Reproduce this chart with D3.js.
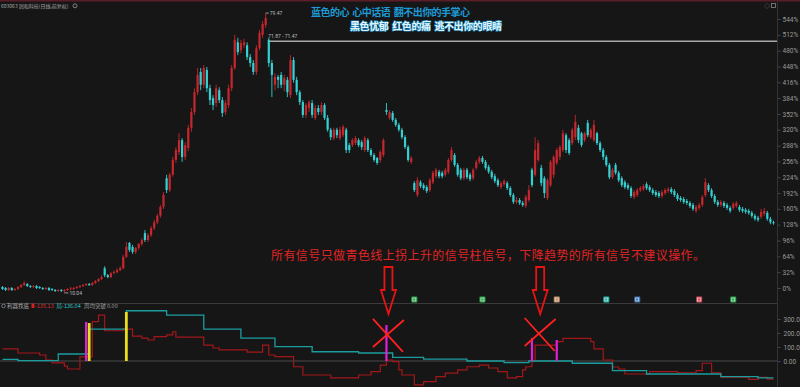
<!DOCTYPE html>
<html>
<head>
<meta charset="utf-8">
<script src="https://cdn.jsdelivr.net/npm/d3@7"></script>
<style>
  html, body { margin: 0; padding: 0; background: #161616; }
  svg { display: block; font-family: "Noto Sans CJK SC", "Noto Sans", sans-serif; }
</style>
</head>
<body>
<div id="chart"></div>
<script>
const W = 800
const H = 387

// daily candles, % versus base: [open, close, high, low]
const candles = [
  [2,-2,4,-4],[0,-4,2,-6],[-4,0,2,-6],[0,-4,2,-6],[-4,-2,0,-6],[-2,2,4,-4],[2,6,8,0],[6,10,14,4],[8,4,10,2],[4,2,6,0],
  [2,4,6,0],[4,0,6,-2],[2,0,4,-2],[0,-2,2,-4],[-2,0,2,-4],[0,-4,2,-6],[-2,-4,0,-6],[-4,-6,-2,-8],[-6,-4,-2,-8],[-4,-6,-2,-8],
  [-6,-4,-2,-10],[-4,-2,0,-6],[-2,-1,2,-4],[-2,0,2,-4],[0,2,4,-2],[2,4,6,0],[4,6,8,2],[6,8,10,4],[8,6,10,4],[6,10,12,4],
  [10,14,16,8],[14,18,20,12],[18,22,26,16],[40,26,44,22],[26,22,28,20],[22,30,32,20],[30,32,36,28],[32,36,40,30],[36,40,44,34],[40,63,67,38],
  [63,83,93,61],[91,77,93,73],[83,73,87,69],[73,81,83,69],[81,89,91,77],[89,97,101,85],[111,97,117,93],[97,107,111,93],[107,121,125,103],[121,133,138,117],
  [133,146,150,129],[146,164,168,142],[164,188,194,160],[222,198,229,192],[198,229,233,194],[229,259,265,225],[259,279,285,253],[275,299,313,269],[299,265,303,255],[265,289,295,259],
  [283,324,330,277],[324,356,364,316],[356,396,404,350],[396,431,445,390],[437,411,445,400],[411,445,451,404],[441,404,447,396],[404,380,411,370],[384,370,390,360],[374,404,411,366],
  [400,380,406,374],[380,354,386,346],[356,374,380,350],[370,404,411,364],[404,445,451,398],[445,502,512,441],[497,477,506,471],[481,495,502,475],[491,497,504,485],[491,467,497,461],
  [467,455,473,447],[455,437,461,431],[437,485,491,431],[485,516,522,481],[512,534,540,506],[532,546,556,526],[502,455,506,447],[455,431,461,386],[411,427,435,400],[427,421,431,404],
  [431,411,437,404],[411,425,431,398],[421,396,427,386],[390,461,471,384],[461,421,467,415],[421,396,427,390],[396,376,400,370],[376,350,380,344],[350,370,374,344],[364,376,380,356],
  [374,350,380,344],[344,364,370,340],[364,356,370,350],[356,370,376,350],[370,344,374,340],[344,320,350,316],[320,305,324,299],[303,320,324,299],[320,309,324,303],[303,320,326,299],
  [309,326,330,305],[320,279,324,273],[289,279,293,273],[289,299,303,285],[293,303,307,289],[299,289,303,285],[295,285,299,279],[279,303,307,275],[299,279,303,275],[279,269,283,265],
  [269,259,273,255],[263,253,265,249],[259,275,279,253],[269,299,303,265],[360,356,374,350],[344,356,360,340],[354,340,358,336],[340,330,344,326],[330,320,334,316],[320,305,324,301],
  [305,285,309,281],[285,259,289,255],[255,263,267,251],[212,198,216,194],[188,218,224,184],[214,206,218,202],[208,202,212,198],[204,196,208,192],[198,218,222,194],[214,233,237,210],
  [226,239,243,222],[235,226,239,222],[233,226,237,222],[229,239,243,225],[235,259,263,231],[259,279,285,255],[269,249,273,245],[249,229,253,225],[239,222,243,218],[222,239,243,218],
  [239,224,243,220],[229,220,233,216],[222,239,243,218],[243,255,259,239],[255,263,267,251],[263,255,267,251],[255,243,259,239],[245,235,249,231],[235,224,239,220],[226,216,231,212],
  [218,208,222,204],[204,212,216,200],[210,216,220,206],[212,202,216,198],[202,188,206,184],[188,174,192,170],[174,178,184,170],[178,172,182,168],[172,168,176,164],[166,184,188,162],
  [178,198,208,174],[239,208,243,204],[229,279,305,225],[259,293,299,255],[243,212,249,206],[222,192,226,182],[182,218,222,178],[208,255,259,204],[229,265,269,222],[253,279,283,249],
  [265,285,289,259],[279,313,320,275],[309,279,313,273],[299,273,303,269],[293,320,324,289],[305,336,350,299],[324,299,330,293],[313,289,316,285],[299,313,316,295],[334,309,340,305],
  [305,320,324,301],[299,330,340,295],[313,293,316,289],[293,279,297,275],[279,265,283,259],[265,249,269,245],[249,224,253,220],[224,239,243,220],[249,233,253,229],[233,218,237,214],
  [222,208,226,204],[214,204,218,200],[208,202,212,198],[202,186,206,182],[184,194,198,180],[188,198,202,184],[198,202,206,194],[200,206,210,196],[210,202,214,198],[204,198,208,194],
  [198,192,202,188],[194,188,198,184],[192,186,196,182],[186,194,198,182],[192,198,202,188],[196,200,204,192],[200,194,204,190],[196,188,200,184],[188,180,192,176],[182,178,186,174],
  [180,174,184,170],[176,172,180,168],[172,166,176,162],[168,160,172,156],[156,164,168,152],[162,168,172,158],[168,184,188,164],[188,214,222,184],[208,198,212,194],[198,186,202,182],
  [186,174,190,170],[174,168,178,164],[168,174,178,164],[172,166,176,162],[168,162,172,158],[162,156,166,152],[162,170,174,158],[166,172,176,162],[164,158,168,154],[160,156,164,152],
  [158,154,162,150],[156,152,160,148],[152,146,156,142],[146,140,150,136],[142,138,146,134],[144,154,160,140],[150,156,162,146],[152,140,156,136],[140,133,144,129],[133,131,136,128]
]

const pctTicks = [0,32,64,96,128,160,192,224,256,288,320,352,384,416,448,480,512,544]
const indTicks = [0,100,200,300]
const indTickLabels = ["0.00","100.0","200.0","300.0"]

// indicator step lines: [candle index, value]
const cyanLine = [[0,12],[5,2],[18,50],[28,228],[40,359],[53,328],[65,228],[77,164],[88,102],[100,66],[115,57],
  [126,26],[136,14],[150,0],[162,-12],[170,0],[184,-16],[197,-69],[208,-93],[232,-112],[244,-121],[249,-121]]
const redLine = [[0,86],[5,57],[12,43],[14,7],[16,-14],[20,-36],[21,-57],[25,29],[29,281],[31,328],[33,216],
  [39,228],[42,178],[45,164],[47,150],[49,174],[53,186],[55,209],[56,171],[65,114],[68,93],[70,79],[79,64],
  [84,114],[86,43],[88,31],[94,-41],[97,-100],[106,-121],[115,-100],[119,-76],[122,-29],[124,7],[126,-5],
  [128,-64],[129,-100],[133,-171],[136,-148],[140,-112],[143,-86],[147,-64],[150,-41],[154,-29],[157,-50],
  [160,-76],[163,-121],[166,-112],[168,-64],[169,-41],[171,2],[172,114],[179,138],[181,162],[190,138],
  [191,86],[194,7],[197,-43],[199,-57],[201,-93],[209,-76],[218,-84],[224,-69],[226,-16],[229,-84],
  [232,-116],[241,-131],[244,-116],[247,-129],[249,-129]]

// signal columns: [candle index, value, kind]
const signalBars = [[27,279,"m"],[28,271,"y"],[40,350,"y"],[124,257,"m"],[171,164,"m"],[179,150,"m"]]
const markerIdx = [133,155,179,195,205,225,236]
const markerKind = ["g","g","t","c","b","p","g"]

const titleLine1 = "蓝色的心  心中话语  翻不出你的手掌心"
const titleLine2 = "黑色忧郁  红色的痛  逃不出你的眼睛"
const noteText = "所有信号只做青色线上拐上升的信号柱信号，下降趋势的所有信号不建议操作。"
const stockName = "603063 润和科技(日线,前复权)"
const peakIdx = 85, peakText = "79.47"
const lowIdx = 20, lowText = "10.04"
const levelIdx = 86, levelPct = 499, levelText = "71.87 - 71.47"
const arrowIdx = [124, 173]
const crossAt = [[124, 193], [173, 200]]

const COL = { up: "#c4272d", down: "#34d0d2", flat: "#bbbbbb",
  m: "#e020d8", y: "#e6de1e", g: "#27a84a", t: "#c08a62", c: "#20b3a6", b: "#3a78b6", p: "#d44a5a" }

const svg = d3.select("#chart").append("svg")
  .attr("width", W)
  .attr("height", H)

svg.append("rect").attr("width", W).attr("height", H).attr("fill", "#161616")
svg.append("rect").attr("width", W).attr("height", 1.5).attr("fill", "#5a1c26")

const x = d3.scaleLinear().domain([0, candles.length - 1]).range([2.5, 773.5])
const yP = d3.scaleLinear().domain([0, 544]).range([288, 19])
const yI = d3.scaleLinear().domain([0, 300]).range([361, 319])

// panel frame
svg.append("line").attr("x1", 777.5).attr("x2", 777.5).attr("y1", 2).attr("y2", H)
  .attr("stroke", "#333")
svg.append("line").attr("x1", 0).attr("x2", 777).attr("y1", 303.5).attr("y2", 303.5)
  .attr("stroke", "#3a3a3a")
svg.append("line").attr("x1", 0).attr("x2", 777).attr("y1", yI(0)).attr("y2", yI(0))
  .attr("stroke", "#4a4a4a").attr("stroke-width", 1.2)

// right axes
const pctAxis = d3.axisRight(yP).tickValues(pctTicks).tickFormat(d => d + "%").tickSize(3).tickPadding(2)
svg.append("g").attr("transform", "translate(777.5,0)").call(pctAxis)
  .call(g => g.select(".domain").remove())
  .call(g => g.selectAll("line").attr("stroke", "#444"))
  .call(g => g.selectAll("text").attr("fill", "#9a9a9a").attr("font-size", "6.5px").attr("font-family", "Roboto, sans-serif"))

const indAxis = d3.axisRight(yI).tickValues(indTicks).tickFormat((d, i) => indTickLabels[i]).tickSize(3).tickPadding(3)
svg.append("g").attr("transform", "translate(777.5,0)").call(indAxis)
  .call(g => g.select(".domain").remove())
  .call(g => g.selectAll("line").attr("stroke", "#444"))
  .call(g => g.selectAll("text").attr("fill", "#9a9a9a").attr("font-size", "6.5px").attr("font-family", "Roboto, sans-serif"))

// level line from the drop after the peak
svg.append("line")
  .attr("x1", x(levelIdx)).attr("x2", 777).attr("y1", yP(levelPct)).attr("y2", yP(levelPct))
  .attr("stroke", "#a8a8a8").attr("stroke-width", 1.3)

// candles
const col = d => d[1] > d[0] ? COL.up : d[1] < d[0] ? COL.down : COL.flat
const cg = svg.append("g")
cg.selectAll("line").data(candles).join("line")
  .attr("x1", (d, i) => x(i)).attr("x2", (d, i) => x(i))
  .attr("y1", d => yP(d[2])).attr("y2", d => yP(d[3]))
  .attr("stroke", col).attr("stroke-width", 0.9)
cg.selectAll("rect").data(candles).join("rect")
  .attr("x", (d, i) => x(i) - 1.1)
  .attr("width", 2.2)
  .attr("y", d => yP(Math.max(d[0], d[1])))
  .attr("height", d => Math.max(0.9, Math.abs(yP(d[0]) - yP(d[1]))))
  .attr("fill", col)

// price notes
const small = (sel) => sel.attr("fill", "#bdbdbd").attr("font-size", "5px").attr("font-family", "Roboto, sans-serif")
svg.append("path")
  .attr("d", `M${x(peakIdx)},${yP(candles[peakIdx][2])}l3,0`)
  .attr("stroke", "#bbb").attr("stroke-width", 0.8)
svg.append("text").attr("x", x(peakIdx) + 4).attr("y", yP(candles[peakIdx][2]) + 2).text(peakText).call(small)
svg.append("text").attr("x", x(levelIdx) - 0.5).attr("y", yP(levelPct) - 3).text(levelText).call(small)
svg.append("path")
  .attr("d", `M${x(lowIdx)},${yP(candles[lowIdx][3])}l4,0`)
  .attr("stroke", "#bbb").attr("stroke-width", 0.8)
svg.append("text").attr("x", x(lowIdx) + 5).attr("y", yP(candles[lowIdx][3]) + 2).text(lowText).call(small)

// header
svg.append("text").attr("x", 1).attr("y", 7.5).text(stockName)
  .attr("fill", "#a8a8a8").attr("font-size", "5px")
svg.append("circle").attr("cx", 75).attr("cy", 5.8).attr("r", 2).attr("fill", "none")
  .attr("stroke", "#999").attr("stroke-width", 0.8)
svg.append("text").attr("x", 764).attr("y", 8).text("◇").attr("fill", "#888").attr("font-size", "6px")
svg.append("rect").attr("x", 771.5).attr("y", 3.5).attr("width", 4).attr("height", 4)
  .attr("fill", "none").attr("stroke", "#888").attr("stroke-width", 0.8)

svg.append("text").attr("x", 311).attr("y", 15.5).text(titleLine1)
  .style("white-space", "pre")
  .attr("fill", "#1c9bd6").attr("font-size", "10px").attr("font-weight", "bold")
  .attr("textLength", 159).attr("lengthAdjust", "spacing")
svg.append("text").attr("x", 350).attr("y", 30).text(titleLine2)
  .style("white-space", "pre")
  .attr("fill", "#dff6ff").attr("stroke", "#1e7fae").attr("stroke-width", 1.2)
  .attr("paint-order", "stroke").attr("font-size", "10px").attr("font-weight", "bold")
  .attr("textLength", 152).attr("lengthAdjust", "spacing")

svg.append("text").attr("x", 271).attr("y", 259.5).text(noteText)
  .attr("fill", "#e02424").attr("font-size", "12px")
  .attr("textLength", 434).attr("lengthAdjust", "spacing")

// signal markers along the bottom of the price panel
svg.selectAll("rect.mk").data(markerIdx).join("rect").attr("class", "mk")
  .attr("x", d => x(d) - 3).attr("y", 296.5).attr("width", 6).attr("height", 6).attr("rx", 1)
  .attr("fill", (d, i) => COL[markerKind[i]])
svg.selectAll("rect.mki").data(markerIdx).join("rect").attr("class", "mki")
  .attr("x", d => x(d) - 1.5).attr("y", 298).attr("width", 3).attr("height", 3)
  .attr("fill", "none").attr("stroke", "#e8e8e8").attr("stroke-width", 0.6)

// indicator header
const hdr = svg.append("g").attr("font-size", "5.5px")
hdr.append("circle").attr("cx", 3.5).attr("cy", 306).attr("r", 1.8).attr("fill", "none")
  .attr("stroke", "#999").attr("stroke-width", 0.7)
hdr.append("text").attr("x", 7).attr("y", 308).text("利器找底").attr("fill", "#aaa")
hdr.append("rect").attr("x", 31.5).attr("y", 303.5).attr("width", 3).attr("height", 4.5).attr("fill", "#d02020")
hdr.append("text").attr("x", 35).attr("y", 308).text("-135.13").attr("fill", "#d83030")
hdr.append("text").attr("x", 56.5).attr("y", 308).text("局").attr("fill", "#2cc6c6")
hdr.append("text").attr("x", 62).attr("y", 308).text("-136.04").attr("fill", "#2cc6c6")
hdr.append("text").attr("x", 84).attr("y", 308).text("周均突破").attr("fill", "#999")
hdr.append("text").attr("x", 107).attr("y", 308).text("0.00").attr("fill", "#999")

// indicator lines
const step = d3.line().x(d => x(d[0])).y(d => yI(d[1])).curve(d3.curveStepAfter)
svg.append("path").attr("d", step(redLine)).attr("fill", "none")
  .attr("stroke", "#a3171b").attr("stroke-width", 1.2)
svg.append("path").attr("d", step(cyanLine)).attr("fill", "none")
  .attr("stroke", "#1b9d9f").attr("stroke-width", 1.3)

svg.selectAll("rect.sig").data(signalBars).join("rect").attr("class", "sig")
  .attr("x", d => x(d[0]) - (d[2] === "y" ? 1.4 : 1.1))
  .attr("width", d => d[2] === "y" ? 2.8 : 2.2)
  .attr("y", d => yI(d[1]))
  .attr("height", d => yI(0) - yI(d[1]))
  .attr("fill", d => COL[d[2]])

// red warning arrows and crosses
const arrow = cx => {
  const t = 267, s = 290, tip = 314
  return `M${cx - 4},${t}L${cx + 4},${t}L${cx + 4},${s}L${cx + 7.5},${s}L${cx},${tip}L${cx - 7.5},${s}L${cx - 4},${s}Z`
}
svg.selectAll("path.arrow").data(arrowIdx).join("path").attr("class", "arrow")
  .attr("d", d => arrow(x(d) + 2))
  .attr("fill", "none").attr("stroke", "#e81414").attr("stroke-width", 1.8)

crossAt.forEach(([i, v]) => {
  const cx = x(i) + 1.5, cy = yI(v)
  svg.append("path")
    .attr("d", `M${cx - 15},${cy - 15}L${cx + 15},${cy + 18}M${cx + 16},${cy - 14}L${cx - 15},${cy + 13}`)
    .attr("stroke", "#ff2020").attr("stroke-width", 1.8).attr("fill", "none")
})
</script>
</body>
</html>
